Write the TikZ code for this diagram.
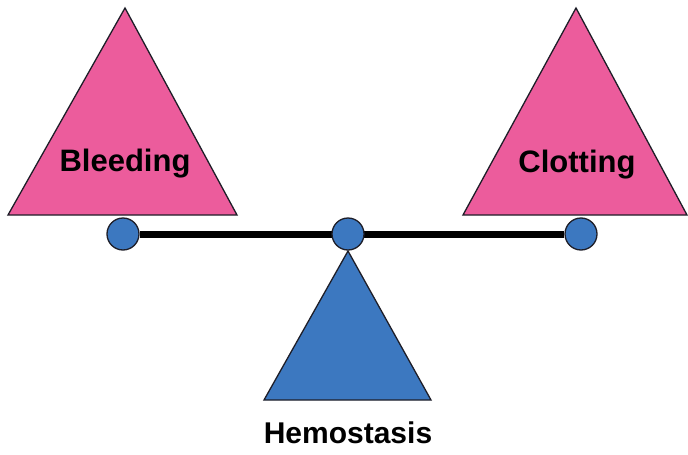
\documentclass[tikz,border=0pt]{standalone}
\usepackage{fontspec}
\setmainfont{Liberation Sans}
\definecolor{pinkfill}{HTML}{EC5C9C}
\definecolor{bluefill}{HTML}{3C78C0}
\definecolor{edge}{HTML}{1E1E28}
\tikzset{
  pinktri/.style={fill=pinkfill, draw=edge, line width=1.3pt, line join=miter},
  bluetri/.style={fill=bluefill, draw=edge, line width=1.3pt, line join=miter},
  ball/.style={circle, fill=bluefill, draw=edge, line width=1.3pt, minimum size=32pt, inner sep=0pt},
  beam/.style={draw=black, line width=7pt},
  label/.style={font=\bfseries\fontsize{31}{36}\selectfont, text=black, inner sep=0pt},
}
\begin{document}
\begin{tikzpicture}[x=1pt, y=-1pt]
\useasboundingbox (0,0) rectangle (688,455);
\fill[white] (0,0) rectangle (688,455);
% pink triangles
\draw[pinktri] (125,8) -- (237,215) -- (8,215) -- cycle;
\draw[pinktri] (576,8) -- (687,215) -- (463,215) -- cycle;
\node[label] (bleed) at (125,164) {Bleeding};
\node[label] (clot) at (577,165) {Clotting};
% fulcrum
\draw[bluetri] (348,251) -- (431,400) -- (264,400) -- cycle;
\node[label, font=\bfseries\fontsize{30}{36}\selectfont] (hemo) at (348,433) {Hemostasis};
% beam and balls
\node[ball] (cl) at (123,234) {};
\node[ball] (cr) at (581,234) {};
\draw[beam] (cl.east) -- (cr.west);
\node[ball] (cm) at (348,234) {};
\end{tikzpicture}
\end{document}
